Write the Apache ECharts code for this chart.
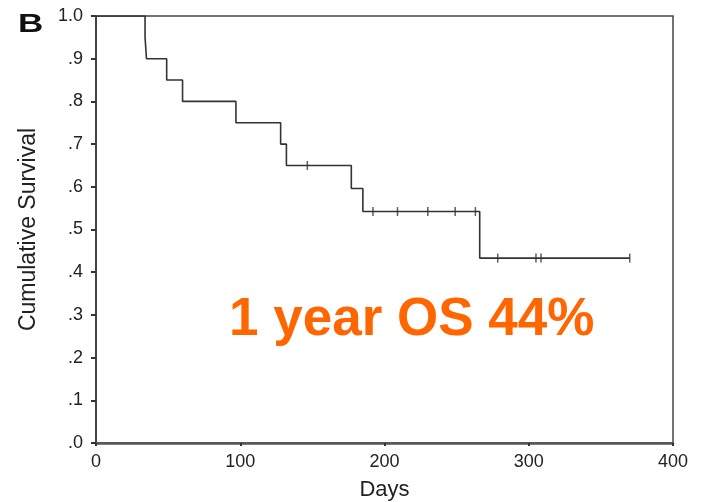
<!DOCTYPE html>
<html>
<head>
<meta charset="utf-8">
<script src="https://cdn.jsdelivr.net/npm/echarts@6/dist/echarts.min.js"></script>
<style>
  html, body { margin: 0; padding: 0; background: #fff; }
  #chart { width: 702px; height: 502px; }
</style>
</head>
<body>
<div id="chart"></div>
<script>
// Kaplan-Meier steps (day of event, survival after event)
var eventDays = [0, 34, 35, 49, 60, 97, 128, 132, 177, 185, 266, 370];
var survival = [1, 0.95, 0.90, 0.85, 0.80, 0.75, 0.70, 0.65, 0.596, 0.542, 0.433, 0.433];
// censored patients
var censorDays = [146.5, 192, 209, 230, 249, 263, 278.5, 305, 308.5, 370];
var censorSurv = [0.65, 0.542, 0.542, 0.542, 0.542, 0.542, 0.433, 0.433, 0.433, 0.433];
var xTicks = [0, 100, 200, 300, 400];
var yTicks = ['.0', '.1', '.2', '.3', '.4', '.5', '.6', '.7', '.8', '.9', '1.0'];

var font = 'Liberation Sans';

var stepData = eventDays.map(function (d, i) { return [d, survival[i]]; });
var censorData = censorDays.map(function (d, i) { return [d, censorSurv[i]]; });

var chart = echarts.init(document.getElementById('chart'));
chart.setOption({
  backgroundColor: '#fff',
  animation: false,
  grid: {
    left: 96, right: 29, top: 16, bottom: 59,
    outerBoundsMode: 'none',
    show: true, borderColor: '#444', borderWidth: 1.5
  },
  xAxis: {
    type: 'value', min: 0, max: 400, interval: 100,
    name: 'Days', nameLocation: 'middle', nameGap: 36,
    nameTextStyle: { fontFamily: font, fontSize: 22, color: '#222' },
    axisLine: { onZero: false, lineStyle: { color: '#555', width: 2.5 } },
    axisTick: { show: true, length: 3, lineStyle: { color: '#333', width: 2 } },
    axisLabel: {
      margin: 10, fontFamily: font, fontSize: 18, color: '#222',
      formatter: function (v) { return xTicks.indexOf(v) >= 0 ? String(v) : ''; }
    },
    splitLine: { show: false }
  },
  yAxis: {
    type: 'value', min: 0, max: 1, interval: 0.1,
    name: 'Cumulative Survival', nameLocation: 'middle', nameGap: 56,
    nameTextStyle: { fontFamily: font, fontSize: 23, color: '#222' },
    axisLine: { onZero: false, lineStyle: { color: '#444', width: 2 } },
    axisTick: { show: true, length: 5, lineStyle: { color: '#333', width: 2 } },
    axisLabel: {
      margin: 13, fontFamily: font, fontSize: 18, color: '#222',
      padding: [4, 0, 0, 0],
      formatter: function (v) { return yTicks[Math.round(v * 10)]; }
    },
    splitLine: { show: false }
  },
  graphic: [
    {
      type: 'text', left: 18, top: 13, scaleX: 1.4,
      style: { text: 'B', font: 'bold 25px ' + font, fill: '#111' }
    },
    {
      type: 'text', left: 229, top: 294,
      style: { text: '1 year OS 44%', font: 'bold 53px ' + font, fill: '#ff6600' }
    }
  ],
  series: [
    {
      type: 'line', step: 'end', data: stepData,
      showSymbol: false, symbol: 'none',
      lineStyle: { color: '#333', width: 1.6 }
    },
    {
      type: 'scatter', data: censorData,
      symbol: 'rect', symbolSize: [1.5, 9],
      itemStyle: { color: '#333' }
    }
  ]
});
</script>
</body>
</html>
